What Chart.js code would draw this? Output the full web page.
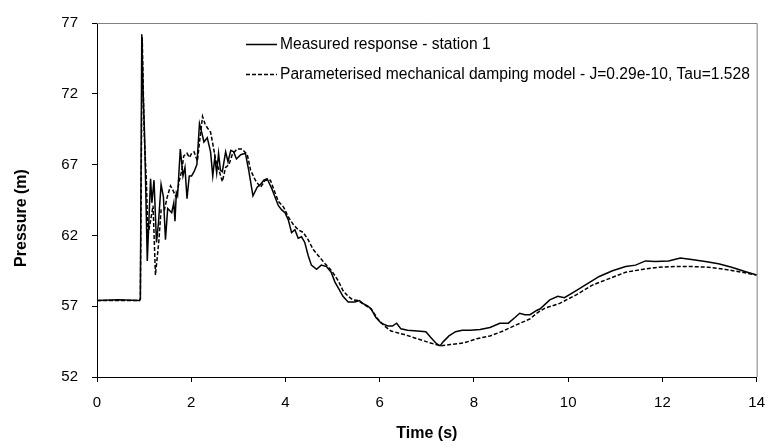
<!DOCTYPE html>
<html lang="en">
<head>
<meta charset="UTF-8">
<title>Pressure response</title>
<script src="https://cdn.jsdelivr.net/npm/chart.js@4.4.1/dist/chart.umd.min.js"></script>
<style>
    html, body { margin: 0; padding: 0; background: #fff; }
    #wrap { width: 777px; height: 448px; }
</style>
</head>
<body>
<div id="wrap"><canvas id="chart" width="777" height="448"></canvas></div>
<script>
// Measured response - station 1
const measuredT = [0, 0.45, 0.9, 0.92, 0.95, 0.98, 1.01, 1.067, 1.137, 1.165, 1.21, 1.263, 1.305, 1.36, 1.41, 1.453, 1.5, 1.585, 1.63, 1.655, 1.684, 1.71, 1.768, 1.825, 1.867, 1.91, 1.958, 2.007, 2.06, 2.12, 2.175, 2.22, 2.27, 2.34, 2.41, 2.457, 2.5, 2.54, 2.58, 2.62, 2.66, 2.73, 2.78, 2.84, 2.9, 2.96, 3.05, 3.15, 3.22, 3.31, 3.4, 3.47, 3.54, 3.61, 3.71, 3.78, 3.85, 3.92, 3.99, 4.06, 4.13, 4.2, 4.27, 4.34, 4.41, 4.48, 4.55, 4.66, 4.76, 4.87, 4.97, 5.05, 5.12, 5.22, 5.33, 5.47, 5.57, 5.64, 5.75, 5.82, 5.92, 6.03, 6.17, 6.27, 6.36, 6.45, 6.59, 6.8, 6.98, 7.08, 7.19, 7.28, 7.35, 7.47, 7.61, 7.75, 7.92, 8.13, 8.34, 8.55, 8.73, 8.87, 8.97, 9.08, 9.19, 9.33, 9.4, 9.61, 9.78, 9.92, 10.17, 10.41, 10.66, 10.94, 11.22, 11.43, 11.64, 11.85, 12.13, 12.38, 12.62, 12.91, 13.19, 13.47, 13.75, 14];
const measuredP = [57.4, 57.45, 57.4, 57.5, 76.2, 72.0, 69.1, 60.2, 66.0, 64.3, 65.9, 61.5, 62.9, 65.6, 64.7, 61.7, 63.9, 63.6, 64.3, 63.0, 65.0, 64.8, 68.1, 66.2, 66.8, 64.6, 66.2, 66.2, 66.5, 67.0, 69.9, 69.3, 68.6, 68.9, 67.9, 66.2, 67.5, 66.4, 67.8, 66.6, 66.5, 67.9, 67.2, 68.0, 67.9, 67.4, 67.7, 67.8, 66.6, 64.8, 65.4, 65.6, 65.9, 66.0, 65.3, 64.7, 64.1, 63.8, 63.6, 63.1, 62.2, 62.4, 61.8, 61.9, 61.5, 60.6, 59.9, 59.6, 59.9, 59.8, 59.4, 58.7, 58.3, 57.7, 57.3, 57.3, 57.4, 57.2, 57.0, 56.8, 56.2, 55.8, 55.6, 55.6, 55.8, 55.4, 55.3, 55.25, 55.2, 54.8, 54.4, 54.2, 54.5, 54.9, 55.2, 55.3, 55.3, 55.35, 55.5, 55.8, 55.8, 56.2, 56.5, 56.4, 56.4, 56.7, 56.8, 57.45, 57.7, 57.6, 58.1, 58.6, 59.1, 59.5, 59.8, 59.9, 60.2, 60.15, 60.2, 60.4, 60.3, 60.15, 60.0, 59.75, 59.45, 59.2];

// Parameterised mechanical damping model
const modelT = [0, 0.9, 0.92, 0.96, 1.0, 1.05, 1.08, 1.14, 1.19, 1.24, 1.31, 1.36, 1.43, 1.49, 1.56, 1.61, 1.68, 1.75, 1.8, 1.84, 1.91, 1.96, 2.01, 2.06, 2.13, 2.19, 2.24, 2.29, 2.34, 2.41, 2.45, 2.52, 2.59, 2.66, 2.73, 2.8, 2.87, 2.97, 3.08, 3.19, 3.26, 3.36, 3.47, 3.57, 3.68, 3.78, 3.85, 3.96, 4.06, 4.17, 4.27, 4.38, 4.48, 4.59, 4.69, 4.84, 4.98, 5.12, 5.22, 5.33, 5.43, 5.54, 5.68, 5.82, 5.96, 6.1, 6.24, 6.52, 6.8, 7.08, 7.29, 7.5, 7.78, 8.06, 8.34, 8.62, 8.91, 9.19, 9.33, 9.5, 9.82, 10.17, 10.52, 10.87, 11.22, 11.57, 11.92, 12.27, 12.62, 12.97, 13.33, 13.68, 14];
const modelP = [57.4, 57.4, 57.5, 76.0, 69.3, 65.6, 62.0, 63.1, 64.1, 59.2, 61.5, 63.8, 63.8, 64.7, 65.5, 65.2, 64.7, 65.9, 66.6, 67.6, 67.8, 67.5, 67.8, 67.9, 67.25, 69.0, 70.4, 69.9, 69.6, 69.3, 68.6, 67.3, 66.6, 65.8, 66.8, 67.0, 67.7, 68.1, 68.1, 67.7, 66.6, 65.9, 65.4, 65.9, 65.9, 65.0, 64.4, 64.0, 63.3, 62.75, 62.4, 62.2, 61.7, 61.0, 60.6, 60.0, 59.5, 58.8, 58.1, 57.7, 57.45, 57.4, 57.1, 56.8, 56.1, 55.6, 55.25, 55.0, 54.7, 54.4, 54.2, 54.3, 54.4, 54.7, 54.9, 55.25, 55.7, 56.1, 56.5, 56.85, 57.2, 57.8, 58.5, 58.95, 59.4, 59.6, 59.75, 59.8, 59.8, 59.75, 59.6, 59.4, 59.2];

const seriesLabels = [
    'Measured response - station 1',
    'Parameterised mechanical damping model - J=0.29e-10, Tau=1.528'
];

const xTickValues = [0, 2, 4, 6, 8, 10, 12, 14];
const yTickValues = [52, 57, 62, 67, 72, 77];

const FONT = 'Arial, "Liberation Sans", sans-serif';

function toPoints(ts, ps) {
    return ts.map((t, i) => ({ x: t, y: ps[i] }));
}

// grey frame on the top and right of the plot area
const frameLines = {
    id: 'frameLines',
    beforeDatasetsDraw(chart) {
        const { ctx, chartArea: a } = chart;
        ctx.save();
        ctx.strokeStyle = '#808080';
        ctx.lineWidth = 1;
        ctx.beginPath();
        ctx.moveTo(a.left, a.top + 0.5);
        ctx.lineTo(a.right + 0.5, a.top + 0.5);
        ctx.lineTo(a.right + 0.5, a.bottom);
        ctx.stroke();
        ctx.restore();
    }
};

// y title sits a bit below the middle of the axis in the original
const yTitle = {
    id: 'yTitle',
    afterDraw(chart) {
        const ctx = chart.ctx;
        ctx.save();
        ctx.translate(22, 218);
        ctx.rotate(-Math.PI / 2);
        ctx.font = 'bold 16px ' + FONT;
        ctx.fillStyle = '#000';
        ctx.textAlign = 'center';
        ctx.textBaseline = 'middle';
        ctx.fillText('Pressure (m)', 0, 0);
        ctx.restore();
    }
};

// legend drawn inside the plot area, like the original
const innerLegend = {
    id: 'innerLegend',
    afterDatasetsDraw(chart) {
        const ctx = chart.ctx;
        const x0 = 246, x1 = 277, rows = [44, 74];
        ctx.save();
        ctx.font = '15.6px ' + FONT;
        ctx.textBaseline = 'middle';
        ctx.fillStyle = '#000';
        chart.data.datasets.forEach((ds, i) => {
            const y = rows[i] + 0.5;
            ctx.strokeStyle = '#000';
            ctx.lineWidth = ds.borderWidth;
            ctx.setLineDash(ds.borderDash || []);
            ctx.beginPath();
            ctx.moveTo(x0, y);
            ctx.lineTo(x1, y);
            ctx.stroke();
            ctx.setLineDash([]);
            ctx.fillText(ds.label, x1 + 3, y);
        });
        ctx.restore();
    }
};

const tickFont = { family: FONT, size: 15 };
const titleFont = { family: FONT, size: 16, weight: 'bold' };

new Chart(document.getElementById('chart'), {
    type: 'scatter',
    data: {
        datasets: [{
            label: seriesLabels[0],
            data: toPoints(measuredT, measuredP),
            showLine: true,
            borderColor: '#000',
            borderWidth: 1.5,
            pointRadius: 0,
            tension: 0
        }, {
            label: seriesLabels[1],
            data: toPoints(modelT, modelP),
            showLine: true,
            borderColor: '#000',
            borderWidth: 1.5,
            borderDash: [4, 2],
            pointRadius: 0,
            tension: 0
        }]
    },
    options: {
        responsive: false,
        animation: false,
        layout: { padding: { top: 16, right: 10, bottom: 0, left: 0 } },
        plugins: {
            legend: { display: false },
            tooltip: { enabled: false }
        },
        scales: {
            x: {
                type: 'linear',
                min: 0,
                max: 14,
                afterBuildTicks: axis => { axis.ticks = xTickValues.map(v => ({ value: v })); },
                afterFit: axis => { axis.height = 71; },
                ticks: { color: '#000', font: tickFont, padding: 12, maxRotation: 0 },
                grid: { drawOnChartArea: false, drawTicks: true, tickLength: 5, color: '#000' },
                border: { display: true, color: '#000', width: 1 },
                title: { display: true, text: 'Time (s)', color: '#000', font: titleFont, padding: { top: 0, bottom: 5 } }
            },
            y: {
                min: 52,
                max: 77,
                afterBuildTicks: axis => { axis.ticks = yTickValues.map(v => ({ value: v })); },
                afterFit: axis => { axis.width = 97; },
                ticks: { color: '#000', font: tickFont, padding: 14 },
                grid: { drawOnChartArea: false, drawTicks: true, tickLength: 5, color: '#000' },
                border: { display: true, color: '#000', width: 1 },
                title: { display: false }
            }
        }
    },
    plugins: [frameLines, yTitle, innerLegend]
});
</script>
</body>
</html>
